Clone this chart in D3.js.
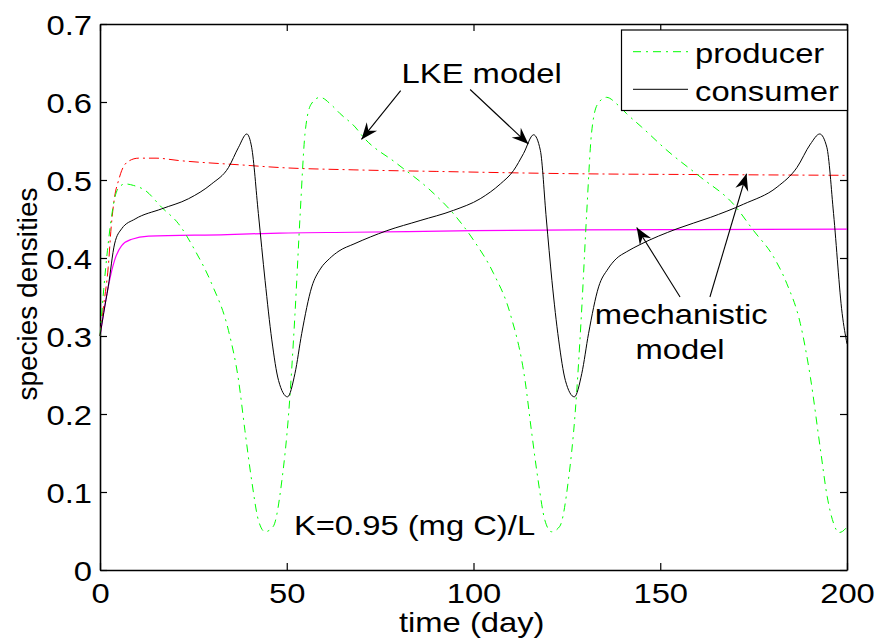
<!DOCTYPE html>
<html><head><meta charset="utf-8">
<script src="https://cdn.jsdelivr.net/npm/d3@7"></script>
<style>
body{margin:0;background:#fff;}
svg text{font-family:"Liberation Sans",Arial,Helvetica,sans-serif;fill:#000;}
</style></head>
<body><svg id="c" width="876" height="638"></svg>
<script>
// ---- data ----
const xTicks = [0, 50, 100, 150, 200];
const yTicks = [0, 0.1, 0.2, 0.3, 0.4, 0.5, 0.6, 0.7];
const producerT = [0,1,2,3,4,5,6.7,9,12,16.5,21,25.4,29.9,34.4,37.1,38.8,40.6,42.4,44.2,46.4,48.7,50.5,52.2,53.6,54.9,56.5,58.9,62,64.3,68.3,70.5,79.5,88.4,94.6,100,105.4,109.8,113.8,115.5,117.3,119.1,120.9,123.1,125.4,127.2,128.9,130.3,131.6,133.2,135.6,138.7,141,145,151.8,160.7,169.6,175,180.4,183.9,187.5,190.2,192.9,194.7,196.4,197.8,199.6,200];
const producerV = [0.30,0.36,0.41,0.45,0.478,0.49,0.495,0.493,0.487,0.465,0.444,0.41,0.367,0.307,0.243,0.179,0.115,0.064,0.049,0.056,0.115,0.20,0.328,0.457,0.56,0.597,0.606,0.596,0.585,0.568,0.555,0.521,0.487,0.457,0.423,0.38,0.329,0.243,0.179,0.115,0.064,0.049,0.056,0.115,0.20,0.328,0.457,0.56,0.597,0.606,0.596,0.585,0.568,0.538,0.504,0.469,0.435,0.401,0.367,0.316,0.247,0.154,0.094,0.06,0.048,0.053,0.056];
const consumerT = [0,1,2.2,3.9,5.8,9.4,16.5,23.7,29.9,34.4,37.1,39.3,40.6,42.4,44.2,46.0,47.8,50.2,52.2,54.0,56.7,59,61.4,64,68,76.8,85.7,94.6,101.8,107.2,110.7,113.4,116.1,117.9,119.5,121,122.8,124.6,127,129,130.8,133.5,136,138.2,141,144.5,154.5,163.4,172.3,181.3,186.6,190.2,192.7,194.6,196.4,198.7,200];
const consumerV = [0.30,0.33,0.363,0.418,0.4375,0.45,0.463,0.476,0.495,0.516,0.542,0.559,0.542,0.457,0.371,0.295,0.243,0.222,0.252,0.303,0.363,0.386,0.399,0.409,0.418,0.435,0.448,0.461,0.476,0.495,0.512,0.534,0.558,0.538,0.450,0.371,0.295,0.243,0.222,0.252,0.303,0.363,0.386,0.399,0.408,0.417,0.4375,0.452,0.469,0.491,0.516,0.546,0.559,0.542,0.457,0.329,0.29];
const lkeT = [0,1,2.2,3,3.9,5,5.8,7.6,10.3,15,21,38.8,48,68,90,128,160,200];
const lkeV = [0.30,0.34,0.388,0.44,0.478,0.50,0.512,0.524,0.528,0.528,0.525,0.519,0.516,0.513,0.511,0.508,0.507,0.506];
const mechT = [0,1,2.2,3.9,5.8,8.5,13,34,48,68,100,128,160,200];
const mechV = [0.30,0.33,0.363,0.397,0.416,0.424,0.428,0.430,0.432,0.433,0.435,0.436,0.4365,0.437];
const legendLabels = ["producer", "consumer"];

const svg = d3.select("#c");
const x = d3.scaleLinear().domain([0, 200]).range([100, 847]);
const y = d3.scaleLinear().domain([0, 0.7]).range([570, 24]);
const SX = 1.17, FS = 28;

function stretch(sel){
  sel.each(function(){
    const t = d3.select(this);
    const tx = +t.attr("x") || 0, ty = +t.attr("y") || 0;
    t.attr("x", 0).attr("y", 0).attr("transform", `translate(${tx},${ty}) scale(${SX},1)`);
  });
}

// axes
const gB = svg.append("g").attr("transform", `translate(0,${y(0)})`)
  .call(d3.axisBottom(x).tickValues(xTicks).tickSizeInner(-7).tickSizeOuter(0).tickPadding(13).tickFormat(d3.format("d")));
const gL = svg.append("g").attr("transform", `translate(${x(0)},0)`)
  .call(d3.axisLeft(y).tickValues(yTicks).tickSizeInner(-7).tickSizeOuter(0).tickPadding(8).tickFormat(d => d === 0 ? "0" : d3.format(".1f")(d)));
const gT = svg.append("g").attr("transform", `translate(0,${y(0.7)})`)
  .call(d3.axisTop(x).tickValues(xTicks).tickSizeInner(-7).tickSizeOuter(0).tickFormat(""));
const gR = svg.append("g").attr("transform", `translate(${x(200)},0)`)
  .call(d3.axisRight(y).tickValues(yTicks).tickSizeInner(-7).tickSizeOuter(0).tickFormat(""));
[gB, gL, gT, gR].forEach(g => {
  g.selectAll("path.domain").attr("stroke", "#000").attr("stroke-width", 1.6);
  g.selectAll(".tick line").attr("stroke", "#000").attr("stroke-width", 1.2);
  g.selectAll(".tick text").attr("font-size", FS).attr("fill", "#000")
    .style("font-family", '"Liberation Sans",Arial,sans-serif');
});
gL.selectAll(".tick text").attr("dy", "0.37em");
stretch(gB.selectAll(".tick text"));
stretch(gL.selectAll(".tick text"));

// lines
const line = d3.line().x(d => x(d[0])).y(d => y(d[1])).curve(d3.curveMonotoneX);
const zip = (a, b) => a.map((t, i) => [t, b[i]]);
const plot = svg.append("g");
plot.append("path").datum(zip(lkeT, lkeV)).attr("d", line)
  .attr("fill", "none").attr("stroke", "#ff0000").attr("stroke-width", 1).attr("stroke-dasharray", "10,4,2,4");
plot.append("path").datum(zip(mechT, mechV)).attr("d", line)
  .attr("fill", "none").attr("stroke", "#ff00ff").attr("stroke-width", 1.2);
plot.append("path").datum(zip(producerT, producerV)).attr("d", line)
  .attr("fill", "none").attr("stroke", "#00ff00").attr("stroke-width", 1).attr("stroke-dasharray", "8,5,2,5");
plot.append("path").datum(zip(consumerT, consumerV)).attr("d", line)
  .attr("fill", "none").attr("stroke", "#000").attr("stroke-width", 1);

// axis labels
const xl = svg.append("text").attr("x", 471.7).attr("y", 632).attr("text-anchor", "middle")
  .attr("font-size", FS).text("time (day)");
stretch(xl);
svg.append("text").attr("transform", `translate(37,294) rotate(-90)`).attr("text-anchor", "middle")
  .attr("font-size", 28).text("species densities");

// arrow marker
svg.append("defs").append("marker").attr("id", "ah").attr("markerUnits", "userSpaceOnUse")
  .attr("markerWidth", 20).attr("markerHeight", 20).attr("refX", 0).attr("refY", 0)
  .attr("viewBox", "-16 -8 18 16").attr("orient", "auto")
  .append("path").attr("d", "M0,0 L-15,-6 L-10,0 L-15,6 Z").attr("fill", "#000");

// annotations (data coordinates)
const arrows = [
  [[80.5, 0.6145], [70.0, 0.552]],
  [[99.1, 0.616], [114.7, 0.546]],
  [[155.3, 0.350], [143.7, 0.439]],
  [[163.3, 0.350], [173.1, 0.508]]
];
arrows.forEach(a => {
  svg.append("line").attr("x1", x(a[0][0])).attr("y1", y(a[0][1]))
    .attr("x2", x(a[1][0])).attr("y2", y(a[1][1]))
    .attr("stroke", "#000").attr("stroke-width", 1.1).attr("marker-end", "url(#ah)");
});
const notes = [
  ["LKE model", 102.2, 0.624],
  ["mechanistic", 155.6, 0.316],
  ["model", 155.3, 0.271],
  ["K=0.95 (mg C)/L", 84.2, 0.045]
];
notes.forEach(n => {
  const t = svg.append("text").attr("x", x(n[1])).attr("y", y(n[2])).attr("text-anchor", "middle")
    .attr("font-size", FS).text(n[0]);
  stretch(t);
});

// legend
const lg = svg.append("g");
lg.append("rect").attr("x", 621.5).attr("y", 30).attr("width", 226).attr("height", 80.5)
  .attr("fill", "#fff").attr("stroke", "#000").attr("stroke-width", 1.2);
const legStyles = [{c: "#00ff00", d: "8,5,2,5"}, {c: "#000", d: null}];
legendLabels.forEach((lab, i) => {
  const ly = 51.7 + i * 37.6;
  lg.append("line").attr("x1", 633).attr("x2", 688).attr("y1", ly).attr("y2", ly)
    .attr("stroke", legStyles[i].c).attr("stroke-width", 1)
    .attr("stroke-dasharray", legStyles[i].d);
  const t = lg.append("text").attr("x", 695).attr("y", ly + 11.5).attr("font-size", FS).text(lab);
  stretch(t);
});
</script></body></html>
